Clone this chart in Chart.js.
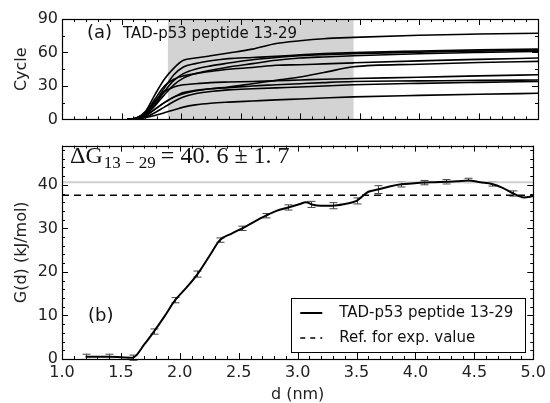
<!DOCTYPE html>
<html lang="en">
<head>
<meta charset="UTF-8">
<title>TAD-p53 peptide 13-29</title>
<script src="https://cdn.jsdelivr.net/npm/chart.js"></script>
<style>
    html, body { margin: 0; padding: 0; background: #fff; overflow: hidden; }
    .wrap { position: absolute; left: 0; width: 550px; }
    #topWrap { top: 0; height: 133px; }
    #botWrap { top: 132px; height: 280px; }
</style>
</head>
<body>
<div class="wrap" id="topWrap"><canvas id="cycleChart"></canvas></div>
<div class="wrap" id="botWrap"><canvas id="freeChart"></canvas></div>
<script>
// (a) cycle count vs distance, one curve per run
const cycleD = [1.55, 1.62, 1.7, 1.78, 1.86, 1.94, 2.02, 2.12, 2.25, 2.4, 2.6, 2.8, 3.0, 3.2, 3.45, 4.0, 4.5, 5.0];
const run1  = [0, 1, 7, 22, 36, 46, 53, 55, 57, 59.5, 63, 68, 70.5, 72.3, 73.5, 75.5, 76.5, 77.2];
const run2  = [0, 1, 5, 15, 28, 40, 47, 50, 52.5, 54.5, 55.5, 56.5, 57.8, 59, 60, 61.3, 62.3, 63];
const run3  = [0, 0.5, 4, 13, 25, 35, 41, 45, 48, 50.5, 53.5, 55.5, 57, 58, 59, 60.3, 61.2, 62];
const run4  = [0, 0.5, 4, 12, 22, 31, 37, 41, 44, 47, 50, 53, 55, 56, 57, 58.8, 60, 61];
const run5  = [0, 1, 6, 18, 30, 36, 39, 41, 43, 45, 46.5, 48.5, 49, 49.8, 50.7, 52.5, 53.8, 55];
const run6  = [0, 0.5, 3, 9, 15, 20, 23, 25.5, 27.5, 29, 32, 35, 38, 42, 47.2, 49.5, 51, 52];
const run7  = [0, 1, 6, 16, 25, 29, 31, 32, 33, 33.5, 34, 34.7, 35.3, 36, 36.6, 37.8, 39, 40];
const run8  = [0, 0.5, 3, 9, 15, 20, 24, 26, 27.5, 28.5, 30, 31, 32, 33, 34, 34.5, 35, 35.3];
const run9  = [0, 0.5, 2, 6, 11, 16, 20, 23, 25, 26.5, 27.5, 28.3, 29, 30, 31, 32.3, 33.2, 34];
const run10 = [0, 0.3, 1.5, 3.5, 6, 8.5, 11, 13, 14.5, 15.5, 16.5, 17.5, 18.3, 19.2, 20.2, 21.5, 22.5, 23.4];
const cycleRuns = [run1, run2, run3, run4, run5, run6, run7, run8, run9, run10];
const spanD = [1.89, 3.45];
const cycleTicks = [0, 30, 60, 90];

// (b) free energy profile
const gD   = [1.2, 1.4, 1.6, 1.7, 1.78, 1.87, 1.96, 2.06, 2.15, 2.25, 2.34, 2.44, 2.53, 2.63, 2.73, 2.82, 2.92, 3.02, 3.07, 3.13, 3.2, 3.3, 3.4, 3.5, 3.6, 3.68, 3.78, 3.88, 3.97, 4.07, 4.16, 4.26, 4.35, 4.45, 4.55, 4.65, 4.74, 4.83, 4.92, 5.0];
const gVal = [0.5, 0.5, 0.3, 3.4, 6.3, 9.8, 13.5, 16.5, 19.5, 23.6, 27.3, 28.8, 30.0, 31.5, 32.9, 34.0, 34.8, 35.6, 36.0, 35.4, 35.2, 35.2, 35.6, 36.3, 38.4, 38.9, 39.6, 40.1, 40.3, 40.5, 40.6, 40.7, 40.8, 41.0, 40.6, 40.2, 39.3, 38.0, 37.1, 37.4];
const errD    = [1.2, 1.4, 1.6, 1.78, 1.96, 2.15, 2.34, 2.53, 2.73, 2.92, 3.11, 3.3, 3.5, 3.68, 3.88, 4.07, 4.26, 4.45, 4.65, 4.83];
const errG    = [0.5, 0.5, 0.3, 6.3, 13.5, 19.5, 27.3, 30.0, 32.9, 34.8, 35.5, 35.2, 36.3, 38.9, 40.1, 40.5, 40.7, 41.0, 40.2, 38.0];
const errSize = [0.6, 0.6, 0.6, 0.6, 0.6, 0.7, 0.5, 0.5, 0.5, 0.6, 0.7, 0.7, 0.7, 0.9, 0.6, 0.5, 0.5, 0.5, 0.5, 0.6];
const gMean = 40.6;
const refExp = 37.6;
const dTicks = [1.0, 1.5, 2.0, 2.5, 3.0, 3.5, 4.0, 4.5, 5.0];
const gTicks = [0, 10, 20, 30, 40];

const FONT = '"DejaVu Sans", sans-serif';
const INK = '#222';

// inward ticks on all four sides, plus box frame, shaded span and labels
const framePlugin = {
    id: 'frame',
    beforeDatasetsDraw(chart, args, opts) {
        const ctx = chart.ctx, a = chart.chartArea, x = chart.scales.x, y = chart.scales.y;
        ctx.save();
        if (opts.span) {
            const x0 = x.getPixelForValue(opts.span[0]), x1 = x.getPixelForValue(opts.span[1]);
            ctx.fillStyle = '#d3d3d3';
            ctx.fillRect(x0, a.top, x1 - x0, a.bottom - a.top);
        }
        if (opts.errors) {
            ctx.strokeStyle = '#444';
            ctx.lineWidth = 1;
            errD.forEach((d, i) => {
                const px = Math.round(x.getPixelForValue(d)) + 0.5;
                const lo = y.getPixelForValue(errG[i] - errSize[i]);
                const hi = y.getPixelForValue(errG[i] + errSize[i]);
                ctx.beginPath();
                ctx.moveTo(px, lo); ctx.lineTo(px, hi);
                ctx.moveTo(px - 4, lo); ctx.lineTo(px + 4, lo);
                ctx.moveTo(px - 4, hi); ctx.lineTo(px + 4, hi);
                ctx.stroke();
            });
        }
        ctx.restore();
    },
    afterDatasetsDraw(chart, args, opts) {
        const ctx = chart.ctx, a = chart.chartArea, x = chart.scales.x, y = chart.scales.y;
        ctx.save();
        ctx.strokeStyle = '#000';
        ctx.lineWidth = 1;
        ctx.beginPath();
        for (let v = x.min; v <= x.max + 1e-6; v += 0.1) {
            const px = Math.round(x.getPixelForValue(v)) + 0.5;
            const major = dTicks.some(t => Math.abs(t - v) < 1e-6);
            const len = major ? 6 : 3;
            ctx.moveTo(px, a.bottom); ctx.lineTo(px, a.bottom - len);
            ctx.moveTo(px, a.top); ctx.lineTo(px, a.top + len);
        }
        for (let v = y.min; v <= y.max + 1e-6; v += opts.yMinor) {
            const py = Math.round(y.getPixelForValue(v)) + 0.5;
            const major = opts.yMajor.includes(v);
            const len = major ? 6 : 3;
            ctx.moveTo(a.left, py); ctx.lineTo(a.left + len, py);
            ctx.moveTo(a.right, py); ctx.lineTo(a.right - len, py);
        }
        ctx.stroke();
        ctx.lineWidth = 1.2;
        ctx.strokeRect(Math.round(a.left) + 0.5, Math.round(a.top) + 0.5,
            Math.round(a.right - a.left), Math.round(a.bottom - a.top));
        ctx.restore();
    },
    afterDraw(chart, args, opts) {
        if (opts.draw) opts.draw(chart);
    }
};

function drawTopLabels(chart) {
    const ctx = chart.ctx;
    ctx.save();
    ctx.fillStyle = '#111';
    ctx.textBaseline = 'alphabetic';
    ctx.font = '18px ' + FONT;
    ctx.fillText('(a)', 87, 38);
    ctx.font = '15px ' + FONT;
    ctx.fillText('TAD-p53 peptide 13-29', 123, 38);
    ctx.restore();
}

function drawBottomLabels(chart) {
    const ctx = chart.ctx, a = chart.chartArea;
    ctx.save();
    ctx.fillStyle = '#111';
    ctx.textBaseline = 'alphabetic';
    // Delta G annotation
    let cx = 70;
    const base = 31;
    ctx.font = '24px "Liberation Serif", serif';
    ctx.fillText('ΔG', cx, base);
    cx += ctx.measureText('ΔG').width + 1;
    ctx.font = '17px "Liberation Serif", serif';
    ctx.fillText('13 − 29', cx, base + 5);
    cx += ctx.measureText('13 − 29').width + 5;
    ctx.font = '24px "Liberation Serif", serif';
    ctx.fillText('= 40. 6 ± 1. 7', cx, base);

    ctx.font = '18px ' + FONT;
    ctx.fillText('(b)', 88, 189);

    // legend box
    const bx = a.right - 242, by = a.bottom - 61, bw = 234, bh = 54;
    ctx.fillStyle = '#fff';
    ctx.fillRect(bx, by, bw, bh);
    ctx.strokeStyle = '#000';
    ctx.lineWidth = 1;
    ctx.strokeRect(Math.round(bx) + 0.5, Math.round(by) + 0.5, bw, bh);
    ctx.lineWidth = 2;
    ctx.beginPath();
    ctx.moveTo(bx + 9, by + 15); ctx.lineTo(bx + 31, by + 15);
    ctx.stroke();
    ctx.lineWidth = 1.5;
    ctx.setLineDash([5, 5]);
    ctx.beginPath();
    ctx.moveTo(bx + 9, by + 40); ctx.lineTo(bx + 31, by + 40);
    ctx.stroke();
    ctx.setLineDash([]);
    ctx.fillStyle = '#111';
    ctx.font = '15px ' + FONT;
    ctx.textBaseline = 'middle';
    ctx.fillText('TAD-p53 peptide 13-29', bx + 48, by + 15);
    ctx.fillText('Ref. for exp. value', bx + 48, by + 40);
    ctx.restore();
}

const tickFont = { family: FONT, size: 16 };

function xScale(showLabels) {
    return {
        type: 'linear', min: 1, max: 5,
        display: showLabels,
        grid: { display: false, drawTicks: false },
        border: { display: false },
        afterBuildTicks: s => { s.ticks = dTicks.map(v => ({ value: v })); },
        ticks: { font: tickFont, color: INK, padding: 4, maxRotation: 0, autoSkip: false,
                 callback: v => Number(v).toFixed(1) },
        title: { display: showLabels, text: 'd (nm)', font: tickFont, color: INK, padding: { top: 0, bottom: 8 } },
        afterFit: s => { s.height = showLabels ? 53 : 0; }
    };
}

function yScale(max, ticks, title) {
    return {
        min: 0, max: max,
        grid: { display: false, drawTicks: false },
        border: { display: false },
        afterBuildTicks: s => { s.ticks = ticks.map(v => ({ value: v })); },
        ticks: { font: tickFont, color: INK, padding: 4 },
        title: { display: true, text: title, font: tickFont, color: INK, padding: { top: 12, bottom: 0 } },
        afterFit: s => { s.width = 62; }
    };
}

new Chart(document.getElementById('cycleChart'), {
    type: 'line',
    data: {
        datasets: cycleRuns.map(run => ({
            data: cycleD.map((d, i) => ({ x: d, y: run[i] })),
            borderColor: '#000',
            borderWidth: 1.6,
            pointRadius: 0,
            cubicInterpolationMode: 'monotone'
        }))
    },
    options: {
        responsive: true,
        maintainAspectRatio: false,
        animation: false,
        layout: { padding: { left: 0, right: 12, top: 19, bottom: 1 } },
        plugins: {
            legend: { display: false },
            tooltip: { enabled: false },
            frame: { span: spanD, yMinor: 15, yMajor: cycleTicks, draw: drawTopLabels }
        },
        scales: { x: xScale(false), y: yScale(90, cycleTicks, 'Cycle') }
    },
    plugins: [framePlugin]
});

new Chart(document.getElementById('freeChart'), {
    type: 'line',
    data: {
        datasets: [
            {
                data: gD.map((d, i) => ({ x: d, y: gVal[i] })),
                borderColor: '#000', borderWidth: 2, pointRadius: 0,
                cubicInterpolationMode: 'monotone'
            },
            {
                data: [{ x: 1, y: refExp }, { x: 5, y: refExp }],
                borderColor: '#000', borderWidth: 1.5, borderDash: [7, 5], pointRadius: 0
            },
            {
                data: [{ x: 1, y: gMean }, { x: 5, y: gMean }],
                borderColor: '#cfcfcf', borderWidth: 2, pointRadius: 0
            }
        ]
    },
    options: {
        responsive: true,
        maintainAspectRatio: false,
        animation: false,
        layout: { padding: { left: 0, right: 12, top: 0, bottom: 0 } },
        plugins: {
            legend: { display: false },
            tooltip: { enabled: false },
            frame: { errors: true, yMinor: 2, yMajor: gTicks, draw: drawBottomLabels }
        },
        scales: { x: xScale(true), y: yScale(49, gTicks, 'G(d) (kJ/mol)') }
    },
    plugins: [framePlugin]
});
</script>
</body>
</html>
